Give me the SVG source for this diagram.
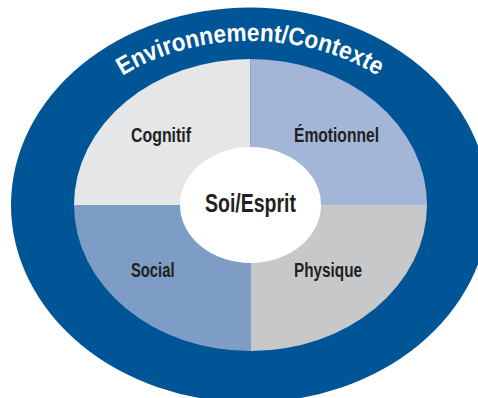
<svg xmlns="http://www.w3.org/2000/svg" width="478" height="398" viewBox="0 0 478 398">
  <style>
    .lbl { font-family: "Liberation Sans Narrow", "Liberation Sans", Arial, sans-serif; font-weight: bold; fill: #231f20; font-stretch: condensed; }
    .env { font-family: "Liberation Sans Narrow", "Liberation Sans", Arial, sans-serif; font-weight: bold; fill: #ffffff; font-size: 25px; font-stretch: condensed; }
  </style>
  <defs>
    <clipPath id="innerClip">
      <ellipse cx="250.5" cy="205" rx="176.5" ry="146"/>
    </clipPath>
    <path id="arcPath" d="M 42,206 A 208,165 0 0 1 458,206"/>
  </defs>
  <rect x="0" y="0" width="478" height="398" fill="#ffffff"/>

  <g id="environnement">
    <ellipse cx="250" cy="205" rx="239" ry="197.5" fill="#005596"/>
    <text class="env"><textPath href="#arcPath" startOffset="50%" text-anchor="middle" textLength="268" lengthAdjust="spacingAndGlyphs">Environnement/Contexte</textPath></text>
  </g>

  <g clip-path="url(#innerClip)">
    <g id="cognitif">
      <rect x="70" y="55" width="180.5" height="150" fill="#e5e6e8"/>
    </g>
    <g id="emotionnel">
      <rect x="250.5" y="55" width="180" height="150" fill="#a3b6d7"/>
    </g>
    <g id="social">
      <rect x="70" y="205" width="181" height="150" fill="#7d9dc7"/>
    </g>
    <g id="physique">
      <rect x="251" y="205" width="180" height="150" fill="#c7c8ca"/>
    </g>
  </g>

  <text class="lbl" x="131" y="141.5" font-size="21" textLength="60" lengthAdjust="spacingAndGlyphs">Cognitif</text>
  <text class="lbl" x="294" y="141.5" font-size="21" textLength="85" lengthAdjust="spacingAndGlyphs">Émotionnel</text>
  <text class="lbl" x="131" y="276.5" font-size="21" textLength="43.5" lengthAdjust="spacingAndGlyphs">Social</text>
  <text class="lbl" x="294" y="276.5" font-size="21" textLength="68" lengthAdjust="spacingAndGlyphs">Physique</text>

  <g id="soi">
    <ellipse cx="250.5" cy="205" rx="70.5" ry="58" fill="#ffffff"/>
    <text class="lbl" x="205" y="212" font-size="26" textLength="91" lengthAdjust="spacingAndGlyphs">Soi/Esprit</text>
  </g>
</svg>
